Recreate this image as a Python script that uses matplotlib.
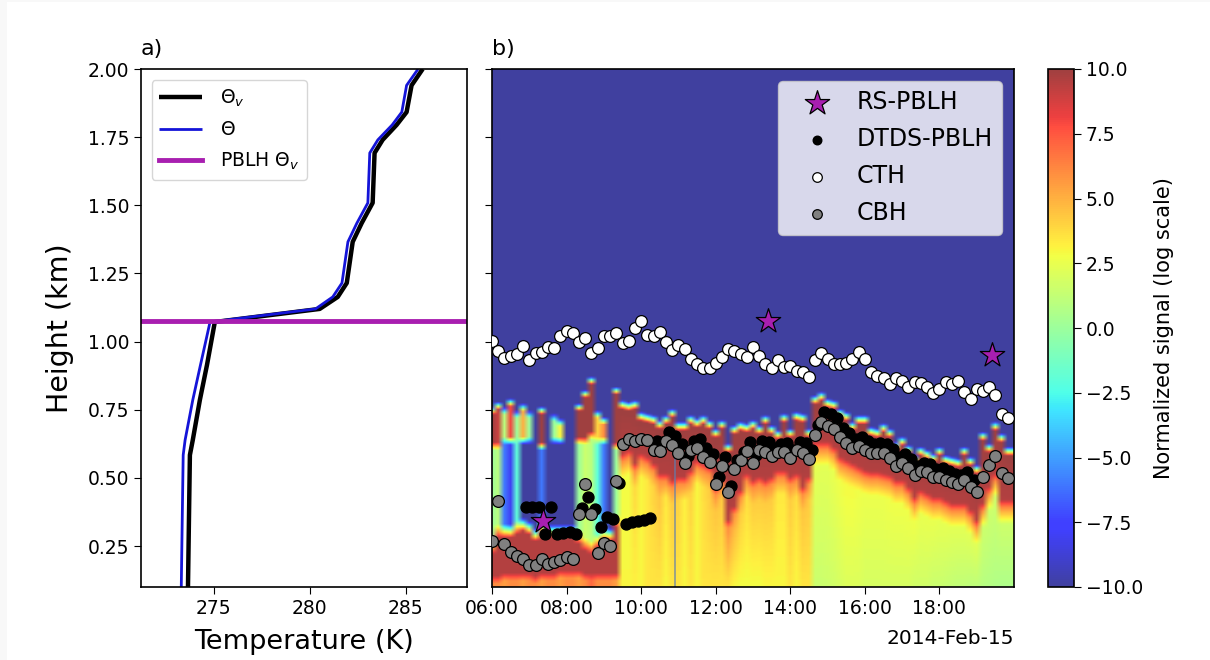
import numpy as np
import matplotlib
matplotlib.use("Agg")
import matplotlib.pyplot as plt
from matplotlib.patches import Rectangle

# ---- panel a: sounding ----
height_km = [2.0,1.94,1.842,1.795,1.74,1.692,1.509,1.435,1.366,1.215,1.164,1.12,1.072,0.914,0.786,0.639,0.584,0.346,0.1]
theta_v = [285.89,285.31,285.05,284.53,283.80,283.38,283.28,282.71,282.24,281.93,281.46,280.52,275.05,274.64,274.27,273.9,273.75,273.7,273.65]
theta = [285.65,285.05,284.8,284.3,283.55,283.13,283.03,282.46,281.99,281.68,281.2,280.3,274.8,274.3,273.9,273.5,273.4,273.35,273.3]
pblh_theta_v = 1.075

# ---- panel b: retrievals at 10-minute steps from 06:00 ----
cth = [1.004,0.967,0.940,0.949,0.955,0.985,0.934,0.957,0.963,0.982,0.977,1.020,1.040,1.033,1.000,1.012,0.960,0.978,1.022,1.020,1.033,0.994,1.004,1.050,1.075,1.024,1.022,1.034,0.997,0.969,0.988,0.973,0.936,0.917,0.905,0.903,0.922,0.945,0.974,0.967,0.955,0.943,0.982,0.947,
       0.917,0.903,0.933,0.906,0.912,0.891,0.889,0.872,0.933,0.957,0.935,0.918,0.918,0.920,0.935,0.963,0.938,0.889,0.874,0.866,0.845,0.868,0.857,0.835,0.852,0.847,0.833,0.813,0.825,0.851,0.845,0.856,0.815,0.788,0.825,0.820,0.835,0.803,0.733,0.721]
cbh = [0.270,0.417,0.257,0.227,0.212,0.204,0.181,0.179,0.204,0.183,0.193,0.199,0.210,0.203,0.369,0.476,0.368,0.226,0.260,0.251,0.489,0.626,0.642,0.637,0.643,0.639,0.603,0.600,0.636,0.621,0.593,0.553,0.601,0.609,0.576,0.557,0.479,0.545,0.447,0.532,0.565,0.599,0.554,0.603,
       0.597,0.582,0.597,0.594,0.575,0.603,0.590,0.568,0.658,0.704,0.691,0.679,0.649,0.630,0.611,0.619,0.603,0.590,0.590,0.593,0.575,0.545,0.555,0.538,0.509,0.526,0.521,0.502,0.505,0.493,0.484,0.479,0.491,0.466,0.449,0.505,0.548,0.581,0.517,0.501]
# DTDS starts at 06:55
dtds = [0.392,0.392,0.392,0.295,0.395,0.295,0.297,0.300,0.295,
        0.389,0.429,0.386,0.319,0.355,0.348,0.483,0.331,0.339,0.341,0.344,0.353,
        0.637,0.633,0.668,0.655,0.625,0.581,0.636,0.642,0.609,0.588,0.505,0.576,0.472,0.564,0.597,0.633,0.584,
        0.637,0.633,0.609,0.625,0.627,0.603,0.631,0.627,0.603,
        0.694,0.743,0.733,0.721,0.685,0.666,0.643,0.652,0.637,0.625,0.627,0.625,0.606,0.576,0.587,0.568,0.545,0.556,0.551,0.534,0.537,0.526,0.513,0.509,0.522,0.493]
dtds_start_h = 6.9167
rs_time_h = [7.37,13.40,19.41]
rs_pblh = [0.342,1.076,0.951]

# ---- panel b: backscatter curtain read per 10-minute column ----
sig_top = [.762,.780,.762,.792,.749,.774,.749,.725,.762,.664,.737,.719,.70,.70,.774,.823,.872,.749,.725,.664,.835,
           .786,.780,.786,.743,.737,.731,.713,.731,.755,.707,.707,.731,.719,.731,.713,.682,.713,.627,.694,.707,.701,.713,.694,
           .731,.694,.676,.737,.682,.743,.737,.682,.804,.817,.792,.786,.755,.743,.707,.731,.731,.688,.682,.701,.682,.633,.652,.621,.584,.615,.603,.590,.615,.584,.578,.572,.615,.578,.548,.670,.627,.707,.664,.615]
brown_bot = [.14,.14,.15,.15,.15,.15,.15,.14,.15,.15,.15,.16,.16,.16,.16,.15,.15,.15,.15,.15,.15,
             .590,.603,.554,.590,.578,.554,.517,.517,.493,.505,.505,.529,.566,.554,.542,.468,.505,.346,.395,.456,.517,.493,.505,
             .493,.505,.529,.529,.505,.517,.468,.505,.633,.633,.633,.615,.578,.566,.554,.542,.529,.523,.523,.517,.511,.493,.493,.468,.431,.456,.444,.431,.431,.419,.407,.407,.407,.383,.346,.407,.468,.517,.419,.419]
early_peak = [10,9,1,8,0,5,0,-10,10,-10,0,3,-10,-10,10,10,10,4,6,-10,10]
early_gap_top = [.62,.62,.64,.64,.64,.64,.64,.64,.62,.64,.64,.64,.64,.64,.64,.64,.66,.64,.64,.64,.62]
early_gap_bot = [.248,.309,.309,.309,.321,.334,.321,.297,.321,.309,.309,.309,.309,.309,.285,.260,.248,.273,.297,.297,.346]
early_gap_val = [0,1,-6,-8,-2,-10,-10,-10,-6,-10,-10,-10,-10,-10,0,1.5,1,-2,-6,-10,0]
early_surface = [6,6,5.5,6,6,5.5,6,6,5.5,6,6,5.5,6,6,5.5,6,7,6,6,6,5.5]
base_hi = [2.8,2.8,3.8,3,3.4,4,4.4,3.4,4.2,4,3.2,4,3,3.7,4.2,4.4,4.2,5.2,4.7,4.2,3.7,4.2,4.2,4.2,4.2,3.4,3.4,4.2,3.7,4.4,4.2,
           2.4,2.3,2.3,2.5,2.7,2.9,2.9,2.7,2.6,2.6,2.6,2.6,2.7,2.7,2.7,2.7,2.7,2.5,2.5,2.5,2.4,2.4,2.3,2.3,2.3,2.3,2.3,1.6,1.6,1.6,1.6,1.6]
base_lo = [3,3,3.2,3,3.5,3.5,3.5,3,3.5,3.5,3,3.5,3,3.5,3.5,3.5,3.5,3.5,3,2.8,2.8,2.8,2.8,3,3,3,3,3.5,3,3.5,3.5,
           1.5,1.5,1.6,1.7,1.9,2.1,2.1,2.1,1.9,1.9,1.9,1.9,1.9,1.9,1.9,1.9,1.7,1.7,1.7,1.5,1.5,1.4,1.3,1.2,1.2,1.1,1.1,.9,.8,.7,.6,.6]
low_stripe_h = 10.9
low_stripe_top_km = 0.66
time_ticks_h = [6,8,10,12,14,16,18]
time_tick_labels = ["06:00","08:00","10:00","12:00","14:00","16:00","18:00"]
date_label = "2014-Feb-15"

z_grid = np.arange(0.1, 2.0025, 0.005)
n_early = len(early_peak)
cols = []
for k, top in enumerate(sig_top):
    if k < n_early:
        zs = [2.0, top, top-.03, early_gap_top[k]+.01, early_gap_top[k]-.02,
              early_gap_bot[k]+.02, early_gap_bot[k]-.03, brown_bot[k], brown_bot[k]-.03, 0.1]
        vs = [-10, -10, early_peak[k], early_peak[k], early_gap_val[k],
              early_gap_val[k], 9.5, 9.5, early_surface[k], early_surface[k]]
    else:
        i = k - n_early
        zs = [2.0, top, top-.035, brown_bot[k], brown_bot[k]-.03, brown_bot[k]-.09, 0.1]
        vs = [-10, -10, 10, 9.5, 6, base_hi[i], base_lo[i]]
    order = np.argsort(zs)
    cols.append(np.interp(z_grid, np.array(zs)[order], np.array(vs)[order]))
cols.append(cols[-1])
field = np.array(cols).T

t_10min = 6 + np.arange(len(cth)) / 6
t_dtds = dtds_start_h + np.arange(len(dtds)) / 6

plt.rcParams["font.family"] = "DejaVu Sans"
fig = plt.figure(figsize=(12.1, 6.6), dpi=100, facecolor="#f8f8f8")
W, H = 1210, 660
def box(x0, y0, x1, y1):
    return [x0/W, 1-y1/H, (x1-x0)/W, (y1-y0)/H]

fig.add_artist(Rectangle((7/W, 0), 1-7/W, 1-2/H, transform=fig.transFigure, facecolor="white", edgecolor="none", zorder=-5))

axa = fig.add_axes(box(141, 69, 467, 587))
axb = fig.add_axes(box(492, 69, 1014, 587))
cax = fig.add_axes(box(1048, 69, 1074, 587))

# panel a
axa.plot(theta_v, height_km, color="black", lw=3.2, label=r"$\Theta_v$", solid_capstyle="butt")
axa.plot(theta, height_km, color="#1414d8", lw=2, label=r"$\Theta$", solid_capstyle="butt")
axa.axhline(pblh_theta_v, color="#a81fb0", lw=3.5, label=r"PBLH $\Theta_v$")
axa.set_xlim(271.2, 288.2)
axa.set_ylim(0.1, 2.0)
axa.set_xticks([275, 280, 285])
axa.set_yticks(np.arange(0.25, 2.01, 0.25))
axa.tick_params(labelsize=13.5, length=5)
axa.set_yticklabels([f"{v:.2f}" for v in np.arange(0.25, 2.01, 0.25)])
axa.set_xlabel("Temperature (K)", fontsize=19.5, labelpad=8)
axa.set_ylabel("Height (km)", fontsize=20.5, labelpad=10)
axa.text(0, 1.02, "a)", transform=axa.transAxes, fontsize=16, ha="left", va="bottom")
axa.legend(loc="upper left", fontsize=13.5, bbox_to_anchor=(0.015, 0.99), borderaxespad=0.3,
           handlelength=2.3, handletextpad=0.95, labelspacing=0.62)

# panel b
im = axb.imshow(field, origin="lower", aspect="auto", cmap="jet", vmin=-10, vmax=10, alpha=0.75,
                extent=[6-1/12, 20+1/12, 0.1, 2.0], interpolation="bilinear")
axb.vlines(low_stripe_h, 0.1, low_stripe_top_km, color="#5f7fb0", lw=1.1, alpha=0.8)
axb.scatter(t_dtds, dtds, s=62, color="black", zorder=3, label="DTDS-PBLH")
axb.scatter(t_10min, cth, s=72, facecolor="white", edgecolor="black", lw=0.9, zorder=4, label="CTH")
axb.scatter(t_10min, cbh, s=72, facecolor="gray", edgecolor="black", lw=0.9, zorder=4, label="CBH")
axb.scatter(rs_time_h, rs_pblh, s=340, marker="*", facecolor="#a81fb0", edgecolor="black", lw=0.9, zorder=5, label="RS-PBLH")
axb.set_xlim(6, 20)
axb.set_ylim(0.1, 2.0)
axb.set_xticks(time_ticks_h)
axb.set_xticklabels(time_tick_labels)
axb.set_yticks(np.arange(0.25, 2.01, 0.25))
axb.set_yticklabels([])
axb.tick_params(labelsize=13.5, length=5)
axb.text(0, 1.02, "b)", transform=axb.transAxes, fontsize=16, ha="left", va="bottom")
axb.text(1, -0.1, date_label, transform=axb.transAxes, fontsize=14.5, ha="right", va="center")
h, l = axb.get_legend_handles_labels()
order = [l.index(n) for n in ["RS-PBLH", "DTDS-PBLH", "CTH", "CBH"]]
leg = axb.legend([h[i] for i in order], [l[i] for i in order], loc="upper right", fontsize=17,
           bbox_to_anchor=(0.977, 0.977), borderaxespad=0, labelspacing=0.55, handletextpad=0.45,
           handlelength=2.45, markerscale=1.0)
leg.legend_handles[1].set_sizes([38])
leg.legend_handles[2].set_sizes([48])
leg.legend_handles[3].set_sizes([48])

# colorbar
cb = fig.colorbar(im, cax=cax)
cb.set_ticks(np.arange(-10, 10.1, 2.5))
cb.ax.tick_params(labelsize=13.5, length=5)
cb.set_label("Normalized signal (log scale)", fontsize=15, labelpad=8)

for ax in (axa, axb, cax):
    for s in ax.spines.values():
        s.set_linewidth(1.2)

fig.savefig("out.png", dpi=100, facecolor=fig.get_facecolor())
